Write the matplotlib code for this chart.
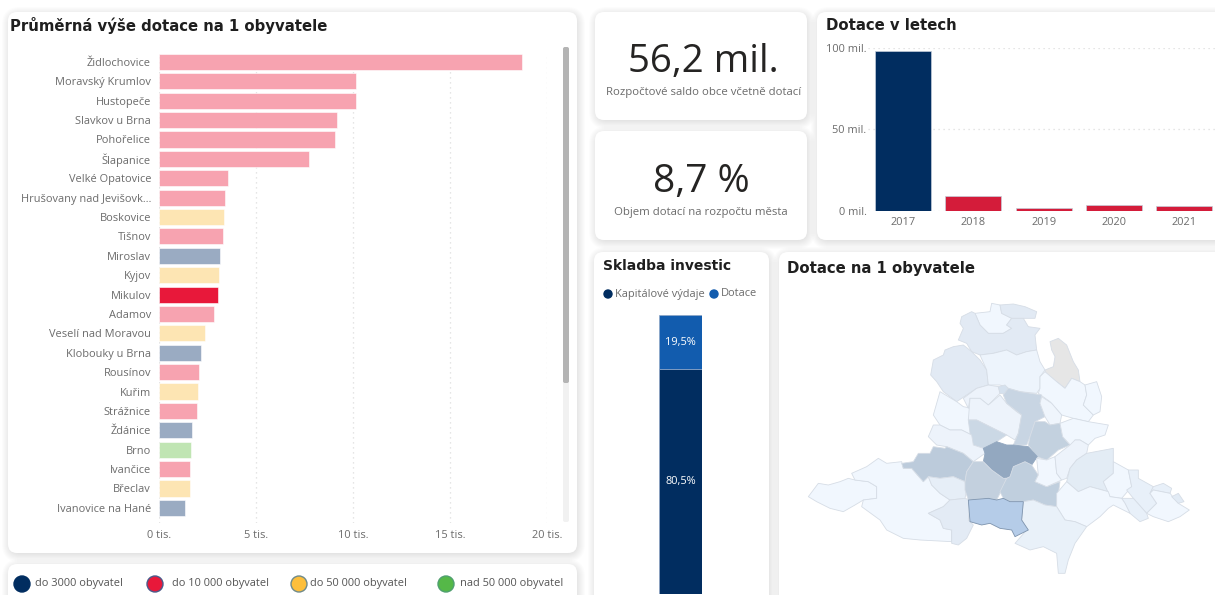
import matplotlib

matplotlib.use("Agg")
import matplotlib.pyplot as plt
from matplotlib.patches import Circle, FancyBboxPatch, Polygon

W, H = 1215, 595
UI_FONT = "Open Sans"
TITLE_FONT = "DejaVu Sans"

# ---------------------------------------------------------------------------
# Data
# ---------------------------------------------------------------------------
towns = [
    "Židlochovice", "Moravský Krumlov", "Hustopeče", "Slavkov u Brna", "Pohořelice",
    "Šlapanice", "Velké Opatovice", "Hrušovany nad Jevišovk…", "Boskovice", "Tišnov",
    "Miroslav", "Kyjov", "Mikulov", "Adamov", "Veselí nad Moravou", "Klobouky u Brna",
    "Rousínov", "Kuřim", "Strážnice", "Ždánice", "Brno", "Ivančice", "Břeclav",
    "Ivanovice na Hané",
]
town_values = [
    18.67, 10.15, 10.13, 9.15, 9.03, 7.73, 3.53, 3.37, 3.31, 3.26, 3.12, 3.08,
    3.04, 2.81, 2.33, 2.17, 2.05, 2.00, 1.92, 1.69, 1.65, 1.59, 1.59, 1.30,
]
town_groups = [
    "m", "m", "m", "m", "m", "m", "m", "m", "l", "m", "s", "l",
    "sel", "m", "l", "s", "m", "l", "m", "s", "xl", "m", "l", "s",
]
group_colors = {
    "s": "#9aabc2", "m": "#f7a3b0", "sel": "#e8183a", "l": "#fde5b3", "xl": "#c0e5b3",
}
town_ticks = [0, 5, 10, 15, 20]
town_tick_labels = ["0 tis.", "5 tis.", "10 tis.", "15 tis.", "20 tis."]

years = ["2017", "2018", "2019", "2020", "2021"]
year_values = [98.0, 8.7, 1.3, 3.6, 3.0]
year_colors = ["#012d60", "#d41c3a", "#d41c3a", "#d41c3a", "#d41c3a"]
year_ticks = [0, 50, 100]
year_tick_labels = ["0 mil.", "50 mil.", "100 mil."]

invest_labels = ["Kapitálové výdaje", "Dotace"]
invest_values = [80.5, 19.5]
invest_text = ["80,5%", "19,5%"]
invest_colors = ["#012d60", "#125cae"]

legend_labels = ["do 3000 obyvatel", "do 10 000 obyvatel", "do 50 000 obyvatel", "nad 50 000 obyvatel"]
legend_colors = ["#012d60", "#e8183a", "#fdbf3c", "#55b848"]
legend_edges = ["#012d60", "#4a5a8a", "#6f8a8a", "#4f9f70"]

map_regions = [
    [(85, 620), (115, 580), (145, 585), (180, 575), (205, 565), (225, 570), (265, 575), (290, 590), (290, 625), (250, 630), (225, 645), (190, 665), (150, 655), (110, 635)],
    [(215, 550), (260, 530), (295, 505), (320, 520), (365, 515), (370, 535), (395, 535), (430, 575), (445, 560), (455, 585), (480, 610), (510, 630), (490, 650), (445, 670), (480, 690), (490, 715), (515, 720), (515, 755), (420, 750), (370, 745), (320, 720), (300, 690), (245, 650), (250, 630), (290, 625), (290, 590), (265, 575), (225, 570)],
    [(585, 70), (630, 65), (635, 40), (660, 45), (665, 70), (695, 85), (680, 105), (695, 115), (670, 130), (625, 130), (600, 105)],
    [(660, 45), (700, 42), (735, 50), (770, 65), (765, 85), (730, 85), (695, 85), (665, 70)],
    [(545, 80), (575, 65), (585, 70), (600, 105), (625, 130), (670, 130), (695, 115), (680, 105), (695, 85), (730, 85), (745, 110), (780, 115), (765, 135), (770, 180), (740, 185), (710, 195), (680, 180), (640, 190), (600, 195), (575, 185), (560, 160), (535, 150), (550, 115), (540, 100)],
    [(495, 180), (520, 170), (550, 165), (575, 185), (600, 210), (620, 240), (625, 285), (590, 295), (560, 315), (530, 335), (490, 305), (470, 275), (452, 255), (460, 210), (490, 195)],
    [(600, 195), (640, 190), (680, 180), (710, 195), (740, 185), (770, 180), (780, 215), (795, 240), (780, 260), (780, 295), (770, 310), (720, 305), (685, 295), (660, 285), (625, 285), (620, 240)],
    [(810, 155), (835, 145), (860, 165), (870, 190), (880, 215), (895, 240), (900, 275), (875, 265), (855, 295), (830, 275), (800, 265), (795, 240), (820, 230), (825, 200), (815, 180)],
    [(795, 245), (830, 275), (855, 295), (875, 265), (900, 275), (915, 285), (920, 315), (910, 345), (940, 375), (925, 395), (880, 385), (845, 375), (810, 335), (775, 310), (780, 295), (780, 260)],
    [(915, 285), (950, 275), (965, 320), (960, 365), (940, 375), (910, 345), (920, 315)],
    [(480, 305), (530, 335), (550, 350), (575, 355), (565, 390), (575, 435), (545, 420), (510, 420), (480, 405), (460, 375), (470, 340)],
    [(550, 325), (590, 295), (625, 285), (655, 290), (660, 310), (625, 345), (600, 325), (570, 325), (565, 355)],
    [(655, 290), (675, 285), (685, 295), (690, 315), (660, 310)],
    [(570, 325), (600, 325), (625, 345), (660, 315), (680, 340), (710, 365), (725, 375), (715, 430), (705, 450), (680, 435), (640, 415), (610, 400), (590, 390), (565, 390)],
    [(685, 295), (720, 305), (785, 315), (780, 340), (795, 380), (765, 395), (750, 440), (740, 465), (700, 465), (715, 430), (725, 375), (680, 340), (670, 315)],
    [(785, 320), (815, 340), (845, 375), (840, 400), (810, 405), (795, 380), (780, 340)],
    [(765, 395), (795, 395), (810, 405), (840, 400), (848, 440), (870, 465), (835, 480), (800, 510), (770, 500), (745, 465), (750, 440)],
    [(565, 390), (590, 390), (610, 400), (640, 415), (680, 435), (650, 455), (610, 475), (580, 465), (570, 430)],
    [(840, 400), (880, 385), (925, 395), (985, 405), (975, 435), (945, 445), (925, 465), (900, 450), (885, 450), (880, 475), (848, 440)],
    [(460, 405), (480, 405), (510, 420), (545, 420), (575, 435), (580, 465), (610, 475), (615, 490), (580, 515), (550, 490), (500, 470), (470, 465), (445, 440)],
    [(610, 475), (650, 455), (680, 465), (700, 465), (745, 470), (772, 500), (755, 525), (735, 515), (700, 530), (690, 560), (670, 565), (635, 540), (610, 515), (615, 490)],
    [(365, 520), (400, 515), (415, 490), (450, 490), (460, 470), (495, 475), (500, 470), (550, 490), (580, 515), (560, 545), (555, 575), (520, 560), (480, 565), (445, 560), (430, 575), (395, 535), (370, 535)],
    [(445, 560), (480, 565), (520, 560), (555, 575), (560, 600), (555, 625), (510, 630), (480, 610), (455, 585)],
    [(580, 515), (610, 515), (635, 540), (670, 565), (680, 565), (660, 610), (650, 630), (625, 625), (565, 630), (555, 600), (555, 575), (560, 545)],
    [(735, 515), (755, 525), (775, 555), (765, 575), (800, 590), (840, 575), (830, 650), (795, 645), (760, 630), (730, 635), (690, 635), (670, 625), (660, 605), (680, 565), (690, 560), (700, 530)],
    [(770, 505), (800, 510), (825, 500), (830, 550), (845, 570), (800, 590), (765, 575), (775, 555)],
    [(825, 500), (870, 465), (885, 450), (900, 450), (925, 465), (920, 490), (890, 510), (870, 535), (860, 565), (845, 570), (830, 550)],
    [(890, 510), (920, 490), (1000, 475), (1000, 550), (970, 575), (985, 605), (930, 590), (895, 605), (860, 575), (870, 535)],
    [(1000, 515), (1045, 540), (1055, 590), (1025, 625), (990, 620), (970, 575), (1000, 550)],
    [(1045, 540), (1075, 540), (1075, 565), (1120, 590), (1110, 610), (1130, 640), (1100, 670), (1060, 625), (1040, 600), (1055, 590)],
    [(1120, 590), (1150, 580), (1175, 595), (1170, 610), (1120, 600), (1110, 610)],
    [(1110, 610), (1120, 600), (1170, 610), (1195, 640), (1228, 660), (1200, 680), (1165, 695), (1120, 680), (1100, 670), (1130, 640)],
    [(1175, 620), (1195, 610), (1212, 635), (1195, 640)],
    [(1025, 625), (1060, 625), (1100, 670), (1105, 685), (1080, 695), (1050, 670), (1035, 640)],
    [(830, 610), (860, 575), (895, 605), (930, 590), (985, 605), (990, 620), (1025, 625), (1035, 640), (1050, 670), (1000, 645), (985, 655), (960, 680), (920, 710), (885, 695), (855, 690), (830, 650)],
    [(730, 635), (760, 630), (795, 645), (830, 650), (855, 690), (885, 695), (920, 710), (885, 760), (865, 810), (855, 850), (835, 850), (830, 790), (790, 770), (750, 780), (705, 760), (740, 720), (725, 690)],
    [(445, 670), (490, 650), (510, 630), (555, 625), (570, 630), (565, 690), (580, 705), (560, 745), (535, 765), (515, 760), (515, 720), (490, 715), (480, 690)],
    [(565, 630), (625, 625), (650, 630), (670, 625), (690, 635), (730, 635), (725, 690), (745, 720), (705, 740), (695, 720), (660, 715), (630, 700), (605, 705), (570, 695)],
]
map_fills = [
    "#f1f7fe", "#f1f7fe", "#f1f7fe", "#e2eaf4", "#e2eaf4", "#e2eaf4", "#edf4fc", "#e6e6e6",
    "#f1f7fe", "#f1f7fe", "#f1f7fe", "#edf3fb", "#d5e1ee", "#edf3fb", "#c8d5e3", "#eff5fc",
    "#c3d1df", "#cbd8e5", "#f1f7fe", "#edf3fb", "#93a8c0", "#bccbdb", "#e6eef7", "#c3d0de",
    "#c0cfde", "#f1f7fe", "#edf3fb", "#e3ecf5", "#f1f7fe", "#e8f0f9", "#e8f0f9", "#f1f7fe",
    "#e2ebf5", "#e8f0f9", "#f1f7fe", "#e9f1f9", "#e3ebf5", "#b5cce8",
]
map_edges = ["#d6dde6"] * 20 + ["#93a8c0"] + ["#d6dde6"] * 16 + ["#7d93ad"]

# ---------------------------------------------------------------------------
# Helpers
# ---------------------------------------------------------------------------
fig = plt.figure(figsize=(W / 100, H / 100), dpi=100, facecolor="white")


def px_axes(x0, y0, x1, y1, **kwargs):
    """Axes placed by picture pixels, y counted from the top."""
    ax = fig.add_axes([x0 / W, 1 - y1 / H, (x1 - x0) / W, (y1 - y0) / H], **kwargs)
    ax.patch.set_visible(False)
    return ax


bg = px_axes(0, 0, W, H)
bg.axis("off")

cards = [
    (8, 12, 577, 553),
    (8, 564, 577, 640),
    (595, 12, 807, 120),
    (595, 131, 807, 240),
    (817, 12, 1260, 240),
    (594, 252, 769, 640),
    (779, 252, 1260, 640),
]

# all shadows first so that no card gets darkened by its neighbour
for x0, y0, x1, y1 in cards:
    for grow in range(1, 11):
        bg.add_patch(FancyBboxPatch(
            (x0 - grow + 4, y0 - grow + 5), x1 - x0 + 2 * grow - 6, y1 - y0 + 2 * grow - 6,
            boxstyle="round,pad=0,rounding_size=%d" % (8 + grow),
            fc="black", ec="none", alpha=0.011, zorder=1,
        ))
for x0, y0, x1, y1 in cards:
    bg.add_patch(FancyBboxPatch(
        (x0, y0), x1 - x0, y1 - y0,
        boxstyle="round,pad=0,rounding_size=9", fc="white", ec="none", zorder=2,
    ))
bg.set_xlim(0, W)
bg.set_ylim(H, 0)


def title(x, y, text, size=10.7):
    bg.text(x, y, text, family=TITLE_FONT, weight="bold", fontsize=size, color="#1f1f1f",
            ha="left", va="center", zorder=5)


def label(x, y, text, size=7.9, color="#6b6b6b", ha="left"):
    bg.text(x, y, text, family=UI_FONT, fontsize=size, color=color, ha=ha, va="center", zorder=5)


def clean_axes(ax, size=7.9):
    for side in ax.spines.values():
        side.set_visible(False)
    ax.tick_params(length=0, labelsize=size, labelcolor="#6b6b6b")
    for t in ax.get_xticklabels() + ax.get_yticklabels():
        t.set_family(UI_FONT)


title(10, 25, "Průměrná výše dotace na 1 obyvatele")
title(826, 25, "Dotace v letech")
title(603, 266, "Skladba investic", 10)
title(787, 268, "Dotace na 1 obyvatele")

# ---------------------------------------------------------------------------
# Towns
# ---------------------------------------------------------------------------
ax = px_axes(159.4, 53, 547.3, 523)
ax.barh(range(len(towns)), town_values, height=0.83,
        color=[group_colors[g] for g in town_groups], edgecolor="#ffffff", linewidth=0.4, zorder=3)
ax.set_xlim(0, 20)
ax.set_ylim(23.78, -0.46)
ax.set_yticks(range(len(towns)), towns)
ax.set_xticks(town_ticks, town_tick_labels)
ax.xaxis.grid(True, linestyle=(0, (1, 3)), color="#dddddd", linewidth=0.9, zorder=0)
ax.set_axisbelow(True)
ax.tick_params(axis="y", pad=6)
ax.tick_params(axis="x", pad=5)
clean_axes(ax)

# scrollbar
bg.add_patch(FancyBboxPatch((563, 47), 6, 475, boxstyle="round,pad=0,rounding_size=2",
                            fc="#f1f1f1", ec="none", zorder=4))
bg.add_patch(FancyBboxPatch((563, 47), 6, 336, boxstyle="round,pad=0,rounding_size=2",
                            fc="#b4b4b4", ec="none", zorder=5))

# legend strip
for x, lx, text, fc, ec in zip([22, 155, 299, 446], [35, 172, 310, 460],
                               legend_labels, legend_colors, legend_edges):
    bg.add_patch(Circle((x, 584), 8, fc=fc, ec=ec, lw=1, zorder=5))
    label(lx, 583.5, text, color="#555555")

# ---------------------------------------------------------------------------
# KPI cards
# ---------------------------------------------------------------------------
label(703, 62, "56,2 mil.", size=27.6, color="#252423", ha="center")
label(703.5, 92.5, "Rozpočtové saldo obce včetně dotací", size=8.2, ha="center")
label(701, 182, "8,7 %", size=28, color="#252423", ha="center")
label(701, 213, "Objem dotací na rozpočtu města", size=8.2, ha="center")

# ---------------------------------------------------------------------------
# Years
# ---------------------------------------------------------------------------
ax = px_axes(868, 47.7, W, 210.5)
ax.bar(range(len(years)), year_values, width=0.8, color=year_colors,
       edgecolor="#c5cedb", linewidth=0.5, zorder=3)
ax.set_xlim(-0.5, 4.44)
ax.set_ylim(0, 100)
ax.set_xticks(range(len(years)), years)
ax.set_yticks(year_ticks, year_tick_labels)
ax.yaxis.grid(True, linestyle=(0, (1, 3)), color="#dddddd", linewidth=0.9, zorder=0)
ax.set_axisbelow(True)
ax.tick_params(axis="y", pad=1)
ax.tick_params(axis="x", pad=5)
clean_axes(ax)

# ---------------------------------------------------------------------------
# Investment stack
# ---------------------------------------------------------------------------
ax = px_axes(659.3, 315, 702, 594)
bottom = 0
for value, color, text in zip(invest_values, invest_colors, invest_text):
    ax.bar(0, value, bottom=bottom, width=1, color=color, edgecolor="#8fa6c6", linewidth=0.5)
    ax.text(0, bottom + value / 2, text, color="white", family=UI_FONT, fontsize=7.9,
            ha="center", va="center")
    bottom += value
ax.set_xlim(-0.5, 0.5)
ax.set_ylim(0, 100)
ax.axis("off")

for x, lx, text, fc in zip([608, 714], [615, 721], invest_labels, invest_colors):
    bg.add_patch(Circle((x, 294), 4.7, fc=fc, ec="none", zorder=5))
    label(lx, 294, text)

# ---------------------------------------------------------------------------
# Map, drawn in the coordinates of the traced outlines
# ---------------------------------------------------------------------------
ax = px_axes(780, 290, W, H)
for outline, fc, ec in zip(map_regions, map_fills, map_edges):
    ax.add_patch(Polygon(outline, closed=True, fc=fc, ec=ec, lw=0.6, joinstyle="round"))
ax.set_xlim(0, 1305)
ax.set_ylim(915, 0)
ax.axis("off")

fig.savefig("out.png", dpi=100, facecolor="white")
